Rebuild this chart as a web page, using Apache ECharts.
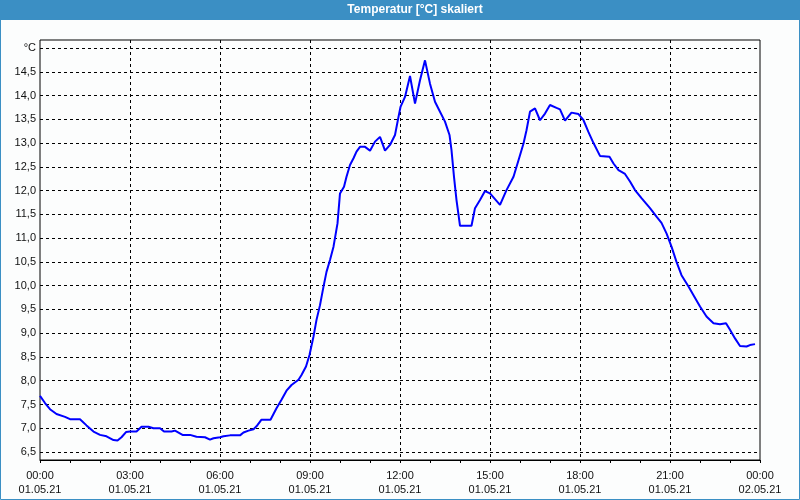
<!DOCTYPE html>
<html>
<head>
<meta charset="utf-8">
<script src="https://cdn.jsdelivr.net/npm/echarts@6/dist/echarts.min.js"></script>
<style>html,body{margin:0;padding:0;background:#fff}#c{width:800px;height:500px}</style>
</head>
<body>
<div id="c"></div>
<script>
// time in minutes since 01.05.21 00:00
const times = [0,10,20,33,50,60,80,93,107,120,133,147,155,163,172,180,193,203,217,227,240,248,263,270,285,300,313,330,340,347,360,367,380,400,407,417,427,433,443,461,473,483,493,503,517,523,532,539,547,553,560,567,573,580,587,595,600,608,613,620,627,633,640,650,660,670,680,690,700,710,717,721,730,740,750,760,770,780,790,800,810,819,823,828,833,840,863,870,880,890,900,920,933,947,957,967,973,980,990,1000,1010,1020,1033,1040,1050,1063,1077,1087,1097,1107,1120,1139,1147,1157,1170,1180,1190,1203,1220,1233,1243,1253,1263,1273,1283,1297,1307,1320,1333,1347,1360,1372,1380,1390,1400,1413,1420,1430];
const temps = [7.68,7.53,7.40,7.30,7.24,7.19,7.19,7.06,6.93,6.86,6.83,6.75,6.74,6.81,6.92,6.93,6.93,7.03,7.03,7.00,7.00,6.93,6.93,6.95,6.86,6.86,6.82,6.81,6.76,6.79,6.81,6.83,6.85,6.85,6.91,6.95,6.98,7.04,7.18,7.18,7.42,7.60,7.79,7.91,8.02,8.12,8.30,8.54,8.93,9.28,9.59,9.98,10.29,10.54,10.82,11.31,11.94,12.08,12.29,12.54,12.68,12.82,12.92,12.92,12.84,13.03,13.13,12.84,12.96,13.17,13.55,13.76,13.97,14.41,13.83,14.32,14.74,14.25,13.87,13.66,13.45,13.17,12.85,12.29,11.80,11.26,11.26,11.63,11.80,11.99,11.94,11.70,12.01,12.29,12.64,12.99,13.27,13.66,13.73,13.48,13.62,13.80,13.74,13.71,13.47,13.64,13.61,13.48,13.23,13.00,12.73,12.71,12.57,12.43,12.35,12.19,12.01,11.84,11.63,11.45,11.32,11.10,10.82,10.50,10.22,9.98,9.80,9.56,9.35,9.21,9.19,9.21,9.07,8.89,8.73,8.72,8.75,8.77];
const titleText = 'Temperatur [°C] skaliert';
const unitLabel = '°C';

const chart = echarts.init(document.getElementById('c'), null, {renderer: 'canvas'});
const font = 'Liberation Sans';
const pad = n => (n < 10 ? '0' : '') + n;
chart.setOption({
  animation: false,
  backgroundColor: '#fcfdfd',
  textStyle: {fontFamily: font},
  graphic: [
    {type: 'rect', shape: {x: 0, y: 0, width: 800, height: 20}, style: {fill: '#3b8fc4'}},
    {type: 'rect', shape: {x: 0.5, y: 0.5, width: 799, height: 499}, style: {fill: null, stroke: '#3b8fc4', lineWidth: 1}},
    {type: 'text', x: 415, y: 10, style: {text: titleText, fill: '#ffffff', font: 'bold 12px "Liberation Sans"', align: 'center', verticalAlign: 'middle'}}
  ],
  grid: [
    {left: 40, right: 40, top: 40, bottom: 40, show: true, borderColor: '#000', borderWidth: 1, backgroundColor: 'transparent', z: 3},
    {left: 40, right: 40, top: 48, bottom: 48}
  ],
  xAxis: [
    {gridIndex: 0, type: 'value', min: 0, max: 1440, interval: 180,
     axisLine: {show: true, lineStyle: {color: '#000'}},
     axisTick: {show: true, length: 3, lineStyle: {color: '#000'}},
     minorTick: {show: true, splitNumber: 3, length: 3, lineStyle: {color: '#000'}},
     splitLine: {show: true, showMinLine: false, showMaxLine: false, lineStyle: {color: '#000', type: [3, 3], width: 1}},
     axisLabel: {color: '#111', fontSize: 11, fontFamily: font, margin: 9, lineHeight: 14,
       formatter: v => v >= 1440 ? '00:00\n02.05.21' : pad(Math.floor(v / 60)) + ':' + pad(v % 60) + '\n01.05.21'}},
    {gridIndex: 1, type: 'value', min: 0, max: 1440, show: false}
  ],
  yAxis: [
    {gridIndex: 0, type: 'value', min: 0, max: 1, show: false, splitLine: {show: false}},
    {gridIndex: 1, type: 'value', min: 6.5, max: 15, interval: 0.5,
     axisLine: {show: false}, axisTick: {show: false},
     splitLine: {show: true, lineStyle: {color: '#000', type: [3, 3], width: 1}},
     axisLabel: {color: '#111', fontSize: 11, fontFamily: font, margin: 4,
       formatter: v => Math.abs(v - 15) < 1e-6 ? unitLabel : v.toFixed(1).replace('.', ',')}}
  ],
  series: [{
    type: 'line', xAxisIndex: 1, yAxisIndex: 1,
    data: times.map((t, i) => [t, temps[i]]),
    showSymbol: false, symbol: 'none',
    lineStyle: {color: '#0000ff', width: 2},
    silent: true
  }]
});
</script>
</body>
</html>
